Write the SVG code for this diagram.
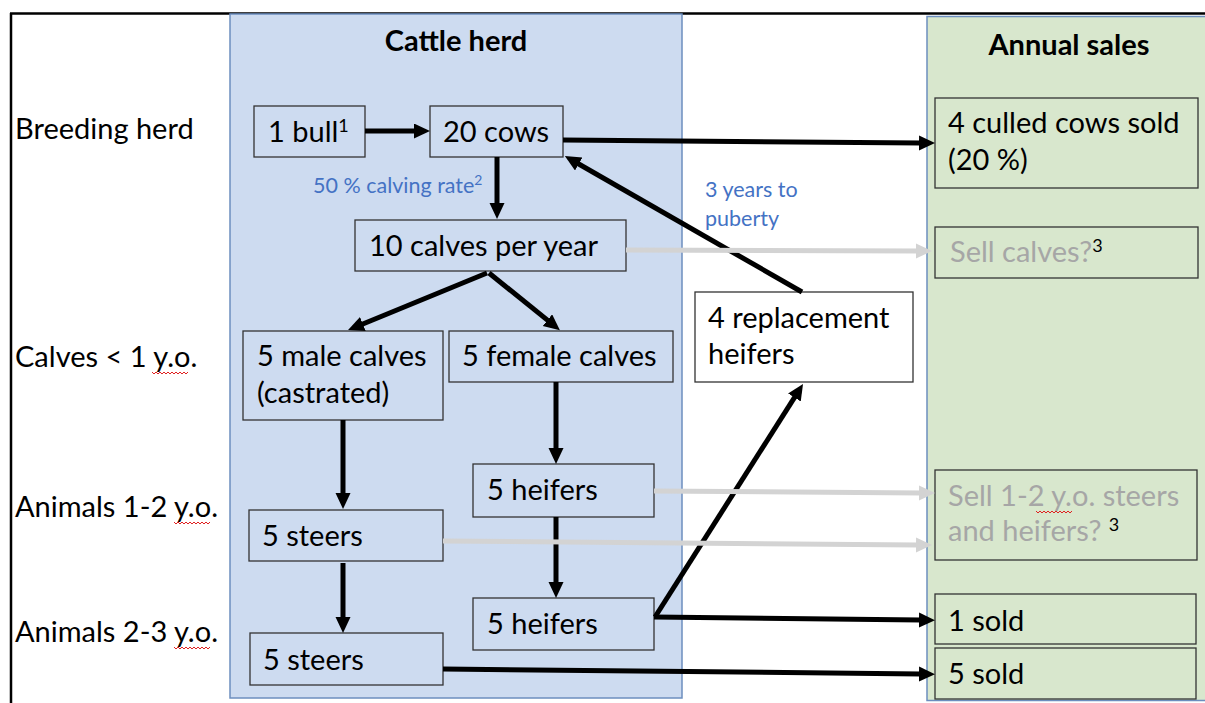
<svg xmlns="http://www.w3.org/2000/svg" width="1205" height="703" viewBox="0 0 1205 703">
<defs>
<style>
.t{font-family:Lato,"Liberation Sans",sans-serif;font-size:29px;fill:#000}
.h{font-family:Lato,"Liberation Sans",sans-serif;font-size:29px;font-weight:bold;fill:#000}
.b{font-family:Lato,"Liberation Sans",sans-serif;font-size:21.5px;fill:#4472C4}
.g{fill:#A6A6A6}
.sup{font-size:18px}
.bx{fill:#CDDBF0;stroke:#333;stroke-width:1.3}
.gx{fill:#D8E7CD;stroke:#333;stroke-width:1.3}
.wx{fill:#FFFFFF;stroke:#333;stroke-width:1.3}
.a{stroke:#000;stroke-width:5;fill:none;marker-end:url(#ah)}
.ag{stroke:#D3D3D3;stroke-width:5;fill:none;marker-end:url(#ahg)}
.sq{stroke:#E02020;stroke-width:1;fill:none}
</style>
<marker id="ah" markerUnits="userSpaceOnUse" markerWidth="18" markerHeight="16" refX="2" refY="7.5" orient="auto">
<path d="M0,0 L16,7.5 L0,15 z" fill="#000"/>
</marker>
<marker id="ahg" markerUnits="userSpaceOnUse" markerWidth="18" markerHeight="16" refX="2" refY="7.5" orient="auto">
<path d="M0,0 L16,7.5 L0,15 z" fill="#D3D3D3"/>
</marker>
</defs>
<rect x="0" y="0" width="1205" height="703" fill="#FFFFFF"/>
<g id="frame">
<path d="M10,13.5 H1205 M11,13 V703" stroke="#000" stroke-width="2.5" fill="none"/>
</g>
<g id="panel-cattle">
<rect x="230" y="14" width="452" height="684" fill="#CDDBF0" stroke="#6C8EBF" stroke-width="1.5"/>
<text class="h" x="456" y="51" text-anchor="middle">Cattle herd</text>
</g>
<g id="panel-sales">
<rect x="927" y="16.5" width="290" height="684" fill="#D8E7CD" stroke="#6C8EBF" stroke-width="1.5"/>
<text class="h" x="1069" y="55" text-anchor="middle">Annual sales</text>
</g>
<g id="row-labels">
<text class="t" x="15" y="139">Breeding herd</text>
<text class="t" x="15" y="367">Calves &lt; 1 y.o.</text>
<text class="t" x="15" y="517">Animals 1-2 y.o.</text>
<text class="t" x="15" y="642">Animals 2-3 y.o.</text>
<path class="sq" d="M152,372 l2,2 l2,-2 l2,2 l2,-2 l2,2 l2,-2 l2,2 l2,-2 l2,2 l2,-2 l2,2 l2,-2 l2,2 l2,-2 l2,2 l2,-2 l2,2 l2,-2"/>
<path class="sq" d="M174,522 l2,2 l2,-2 l2,2 l2,-2 l2,2 l2,-2 l2,2 l2,-2 l2,2 l2,-2 l2,2 l2,-2 l2,2 l2,-2 l2,2 l2,-2 l2,2 l2,-2"/>
<path class="sq" d="M174,647 l2,2 l2,-2 l2,2 l2,-2 l2,2 l2,-2 l2,2 l2,-2 l2,2 l2,-2 l2,2 l2,-2 l2,2 l2,-2 l2,2 l2,-2 l2,2 l2,-2"/>
</g>
<g id="bull">
<rect class="bx" x="254" y="106" width="111" height="51"/>
<text class="t" x="268" y="142">1 bull<tspan class="sup" dy="-10">1</tspan></text>
</g>
<g id="cows">
<rect class="bx" x="430" y="106" width="133" height="51"/>
<text class="t" x="443" y="142">20 cows</text>
</g>
<g id="calving-label">
<text class="b" x="313" y="193">50 % calving rate<tspan font-size="14" dy="-8">2</tspan></text>
</g>
<g id="puberty-label">
<text class="b" x="705" y="197">3 years to</text>
<text class="b" x="705" y="226">puberty</text>
</g>
<g id="calves">
<rect class="bx" x="355" y="220" width="271" height="51"/>
<text class="t" x="369" y="256">10 calves per year</text>
</g>
<g id="male-calves">
<rect class="bx" x="243" y="331" width="200" height="89"/>
<text class="t" x="257" y="366">5 male calves</text>
<text class="t" x="257" y="403">(castrated)</text>
</g>
<g id="female-calves">
<rect class="bx" x="449" y="331" width="224" height="51"/>
<text class="t" x="462" y="366">5 female calves</text>
</g>
<g id="replacement">
<rect class="wx" x="695" y="292" width="218" height="90"/>
<text class="t" x="708" y="328">4 replacement</text>
<text class="t" x="708" y="364">heifers</text>
</g>
<g id="heifers1">
<rect class="bx" x="473" y="464" width="181" height="53"/>
<text class="t" x="487" y="500">5 heifers</text>
</g>
<g id="steers1">
<rect class="bx" x="249" y="510" width="194" height="51"/>
<text class="t" x="262" y="546">5 steers</text>
</g>
<g id="heifers2">
<rect class="bx" x="473" y="598" width="181" height="52"/>
<text class="t" x="487" y="634">5 heifers</text>
</g>
<g id="steers2">
<rect class="bx" x="250" y="633" width="193" height="52"/>
<text class="t" x="263" y="670">5 steers</text>
</g>
<g id="culled">
<rect class="gx" x="935" y="98" width="263" height="90"/>
<text class="t" x="948" y="133">4 culled cows sold</text>
<text class="t" x="948" y="170">(20 %)</text>
</g>
<g id="sell-calves">
<rect class="gx" x="935" y="227" width="263" height="51"/>
<text class="t g" x="950" y="262">Sell calves?<tspan class="sup" fill="#000" dy="-10">3</tspan></text>
</g>
<g id="sell-young">
<rect class="gx" x="935" y="470" width="262" height="90"/>
<text class="t g" x="948" y="506">Sell 1-2 y.o. steers</text>
<text class="t g" x="948" y="541">and heifers? <tspan class="sup" fill="#000" dy="-10">3</tspan></text>
<path class="sq" d="M1036,511 l2,2 l2,-2 l2,2 l2,-2 l2,2 l2,-2 l2,2 l2,-2 l2,2 l2,-2 l2,2 l2,-2 l2,2 l2,-2 l2,2 l2,-2 l2,2 l2,-2"/>
</g>
<g id="sold1">
<rect class="gx" x="935" y="594" width="261" height="50"/>
<text class="t" x="948" y="631">1 sold</text>
</g>
<g id="sold5">
<rect class="gx" x="935" y="648" width="261" height="51"/>
<text class="t" x="948" y="684">5 sold</text>
</g>
<g id="connectors">
<line class="a" x1="365" y1="131" x2="416" y2="131"/>
<line class="a" x1="563" y1="140" x2="921" y2="143"/>
<line class="a" x1="497" y1="157" x2="497" y2="205"/>
<line class="a" x1="487" y1="273" x2="361" y2="324.7"/>
<line class="a" x1="489" y1="273" x2="549" y2="321.4"/>
<line class="a" x1="802" y1="292" x2="577" y2="163"/>
<line class="a" x1="343" y1="420" x2="343" y2="495"/>
<line class="a" x1="556" y1="382" x2="556" y2="450"/>
<line class="a" x1="556" y1="517" x2="556" y2="584"/>
<line class="a" x1="343" y1="563" x2="343" y2="619"/>
<line class="a" x1="654" y1="617" x2="921" y2="620"/>
<line class="a" x1="655" y1="617" x2="795.5" y2="395.8"/>
<line class="a" x1="443" y1="669" x2="921" y2="674"/>
<line class="ag" x1="626" y1="250" x2="918" y2="251"/>
<line class="ag" x1="654" y1="491" x2="921" y2="493"/>
<line class="ag" x1="443" y1="541" x2="918" y2="545"/>
</g>
</svg>
